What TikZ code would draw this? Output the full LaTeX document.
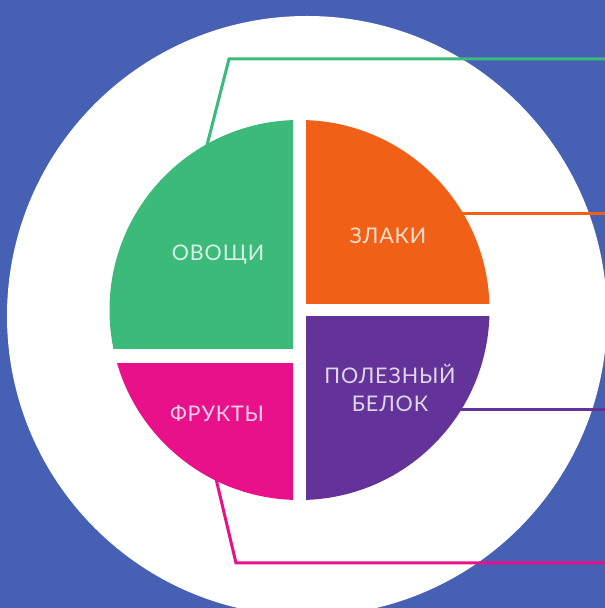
\documentclass[tikz,border=0pt]{standalone}
\usepackage{fontspec}
\setmainfont{Lato}[LetterSpace=4]
\usepackage{xcolor}
\usepackage{tikz}
\usetikzlibrary{calc}

\definecolor{bgblue}{RGB}{70,96,180}
\definecolor{veggreen}{RGB}{59,186,122}
\definecolor{grainorange}{RGB}{240,97,23}
\definecolor{protpurple}{RGB}{100,51,153}
\definecolor{fruitpink}{RGB}{232,17,138}

\tikzset{
	label text/.style={text=white, text opacity=0.8, font=\fontsize{21.5}{28}\selectfont, align=center, inner sep=0pt},
	link/.style={line width=3pt}
}

\begin{document}
\begin{tikzpicture}[x=1pt,y=1pt]
			\useasboundingbox (0,0) rectangle (605,608);
			\fill[bgblue] (0,0) rectangle (605,608);
			\fill[white] (307,292) circle (300);

			\coordinate (pie) at (299.5,298);

			% four parts of the plate
			\begin{scope}
				\clip (0,259) rectangle (293,608);
				\fill[veggreen] (pie) circle (190);
			\end{scope}
			\begin{scope}
				\clip (306,304) rectangle (605,608);
				\fill[grainorange] (pie) circle (190);
			\end{scope}
			\begin{scope}
				\clip (306,0) rectangle (605,291);
				\fill[protpurple] (pie) circle (190);
			\end{scope}
			\begin{scope}
				\clip (0,0) rectangle (293,244);
				\fill[fruitpink] (pie) circle (190);
			\end{scope}

			\node[label text] (veg) at (218,353) {ОВОЩИ};
			\node[label text] (grain) at (388,372) {ЗЛАКИ};
			\node[label text] (protein) at (390,220) {ПОЛЕЗНЫЙ\\БЕЛОК};
			\node[label text] (fruit) at (217,194) {ФРУКТЫ};

			\coordinate (vegA) at ($(pie)+(119.6:188)$);
			\coordinate (vegB) at (229,549);
			\coordinate (vegEnd) at (606,549);
			\coordinate (grainA) at ($(pie)+(30:188)$);
			\coordinate (grainEnd) at (606,394);
			\coordinate (protA) at ($(pie)+(-31:188)$);
			\coordinate (protEnd) at (606,198);
			\coordinate (fruitA) at ($(pie)+(-116.4:188)$);
			\coordinate (fruitB) at (236,45);
			\coordinate (fruitEnd) at (606,45);

			\draw[link, veggreen] (vegA) -- (vegB) -- (vegEnd);
			\draw[link, grainorange] (grainA |- grainEnd) -- (grainEnd);
			\draw[link, protpurple] (protA |- protEnd) -- (protEnd);
			\draw[link, fruitpink] (fruitA) -- (fruitB) -- (fruitEnd);
		\end{tikzpicture}
\end{document}
